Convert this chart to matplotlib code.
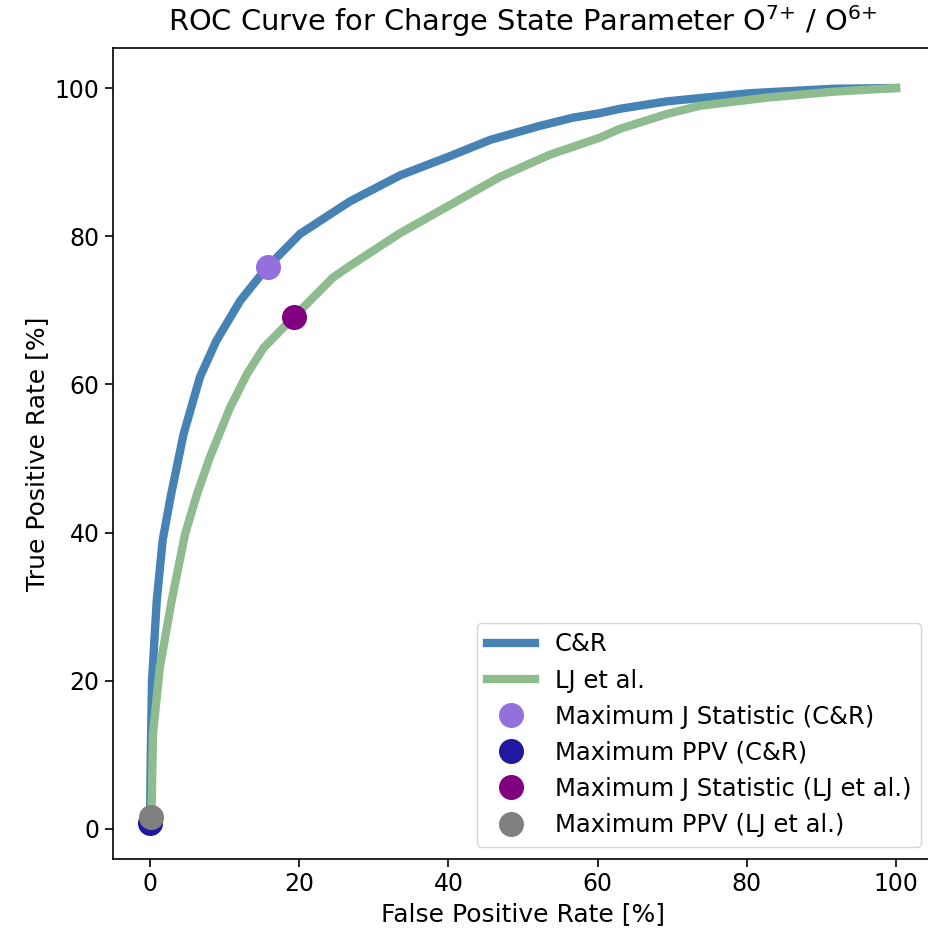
import matplotlib
matplotlib.use("Agg")
import matplotlib.pyplot as plt

plt.rcParams["mathtext.default"] = "regular"

# ── data ─────────────────────────────────────────────────────────────────────
cr_fpr = [0.0, 0.1, 0.27, 0.9, 1.7, 2.8, 4.5, 6.7, 8.9, 12.1, 15.6, 20.1,
          26.8, 33.5, 40.2, 45.6, 52.3, 56.7, 60.3, 63.0, 69.3, 80.4, 91.6,
          100.0]
cr_tpr = [0.8, 10.0, 20.0, 30.8, 39.0, 45.0, 53.3, 61.0, 65.9, 71.3, 75.7,
          80.3, 84.7, 88.2, 90.8, 93.0, 94.9, 96.0, 96.6, 97.2, 98.2, 99.3,
          99.9, 100.0]

lj_fpr = [0.2, 0.4, 1.3, 2.9, 4.7, 6.3, 8.0, 10.7, 13.0, 15.2, 18.3, 24.5,
          26.8, 33.5, 40.2, 46.9, 53.6, 60.3, 63.0, 69.3, 73.7, 82.7, 91.6,
          100.0]
lj_tpr = [1.6, 12.8, 21.7, 30.8, 39.8, 45.2, 50.1, 56.8, 61.4, 64.9, 68.1,
          74.4, 76.0, 80.4, 84.2, 88.0, 91.0, 93.3, 94.5, 96.5, 97.6, 98.7,
          99.5, 100.0]

point_labels = ["Maximum J Statistic (C&R)", "Maximum PPV (C&R)",
                "Maximum J Statistic (LJ et al.)", "Maximum PPV (LJ et al.)"]
point_fpr = [15.8, 0.0, 19.3, 0.2]
point_tpr = [75.8, 0.85, 69.1, 1.6]
point_colors = ["mediumpurple", "#1f18a0", "purple", "gray"]

fig = plt.figure(figsize=(9.29, 9.39), dpi=100)
# original figure was cropped on the right, so the axes run past the edge
ax = fig.add_axes([112.7 / 929, 80 / 939, 820.6 / 929, 811 / 939])

ax.plot(cr_fpr, cr_tpr, color="steelblue", lw=6, label="C&R")
ax.plot(lj_fpr, lj_tpr, color="darkseagreen", lw=6, label="LJ et al.")
for x, y, c, lab in zip(point_fpr, point_tpr, point_colors, point_labels):
    ax.plot(x, y, "o", color=c, ms=17, label=lab)

ax.set_xlim(-5, 105)
ax.set_ylim(-4.05, 105.4)
ax.tick_params(labelsize=17, length=6, width=1.2)
for s in ax.spines.values():
    s.set_linewidth(1.2)
ax.set_xlabel("False Positive Rate [%]", fontsize=18)
ax.set_ylabel("True Positive Rate [%]", fontsize=18)
ax.set_title("ROC Curve for Charge State Parameter O$^{7{+}}$ / O$^{6{+}}$",
             fontsize=20.8, pad=12)
ax.legend(loc="lower right", fontsize=17.5)

fig.savefig("out.png", dpi=100)
